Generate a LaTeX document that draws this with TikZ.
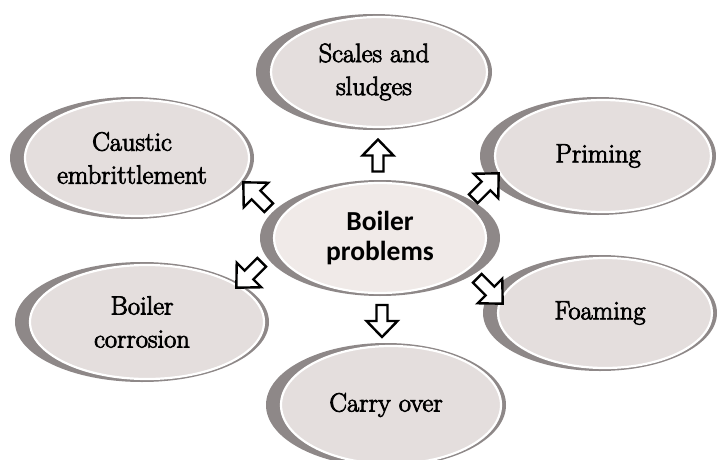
\documentclass[tikz,border=0pt]{standalone}
\usepackage{fontspec}
\newfontfamily\boldsans{Carlito}
\newfontfamily\heavyserif{Latin Modern Roman}[FakeBold=3]
\usetikzlibrary{shapes.geometric,calc}
\definecolor{ringgray}{RGB}{142,136,136}
\definecolor{innergray}{RGB}{228,222,221}
\definecolor{centerfill}{RGB}{240,234,232}
\tikzset{
  ringshift/.initial=5pt,
  ringcut/.initial=10pt,
  innerfill/.initial=innergray,
  bubble/.style={ellipse, inner sep=0pt, fill=ringgray, align=center, text=black,
    font=\heavyserif\fontsize{26.5}{33}\selectfont,
    path picture={\path[draw=white, line width=2.2pt, fill=\pgfkeysvalueof{/tikz/innerfill}]
      let \p1=(path picture bounding box.north east), \p2=(path picture bounding box.south west) in
      ($(\p1)!0.5!(\p2)+(\pgfkeysvalueof{/tikz/ringshift},0)$)
      ellipse [x radius={(\x1-\x2)/2-\pgfkeysvalueof{/tikz/ringcut}}, y radius={(\y1-\y2)/2-3pt}];}},
  blockarrow/.pic={\draw[line width=2.4pt, fill=white, line join=miter, miter limit=10]
      (-16,-5.5) -- (0,-5.5) -- (0,-15.5) -- (16,0) -- (0,15.5) -- (0,5.5) -- (-16,5.5) -- cycle;}
}
\begin{document}
\begin{tikzpicture}[x=1pt,y=1pt]
\useasboundingbox (0,0) rectangle (720,459);
\fill[white] (0,0) rectangle (720,459);
\node[bubble, minimum width=236pt, minimum height=116pt] (top) at (374,387) {Scales and\\sludges};
\node[bubble, minimum width=244pt, minimum height=122pt] (caustic) at (132,301) {Caustic\\embrittlement};
\node[bubble, minimum width=236pt, minimum height=118pt] (priming) at (598,303) {Priming};
\node[bubble, minimum width=254pt, minimum height=120pt] (corrosion) at (142,137) {Boiler\\corrosion};
\node[bubble, minimum width=234pt, minimum height=116pt] (foaming) at (600,146) {Foaming};
\node[bubble, minimum width=240pt, minimum height=124pt] (carry) at (386,54) {Carry over};
\node[bubble, ringshift=0pt, ringcut=14pt, innerfill=centerfill, minimum width=240pt, minimum height=116pt,
      font=\boldsans\bfseries\fontsize{27.5}{30}\selectfont] (center) at (380,221) {Boiler\\problems};
\pic (aup) [rotate=90] at (378,303.5) {blockarrow};
\pic (adown) [rotate=-90] at (382,138) {blockarrow};
\pic (aul) [rotate=135, scale=1.12] at (256,264) {blockarrow};
\pic (all) [rotate=225, scale=1.12] at (249,184) {blockarrow};
\pic (aur) [rotate=45, scale=1.12] at (486,273) {blockarrow};
\pic (alr) [rotate=-45, scale=1.12] at (490,168) {blockarrow};
\end{tikzpicture}
\end{document}
